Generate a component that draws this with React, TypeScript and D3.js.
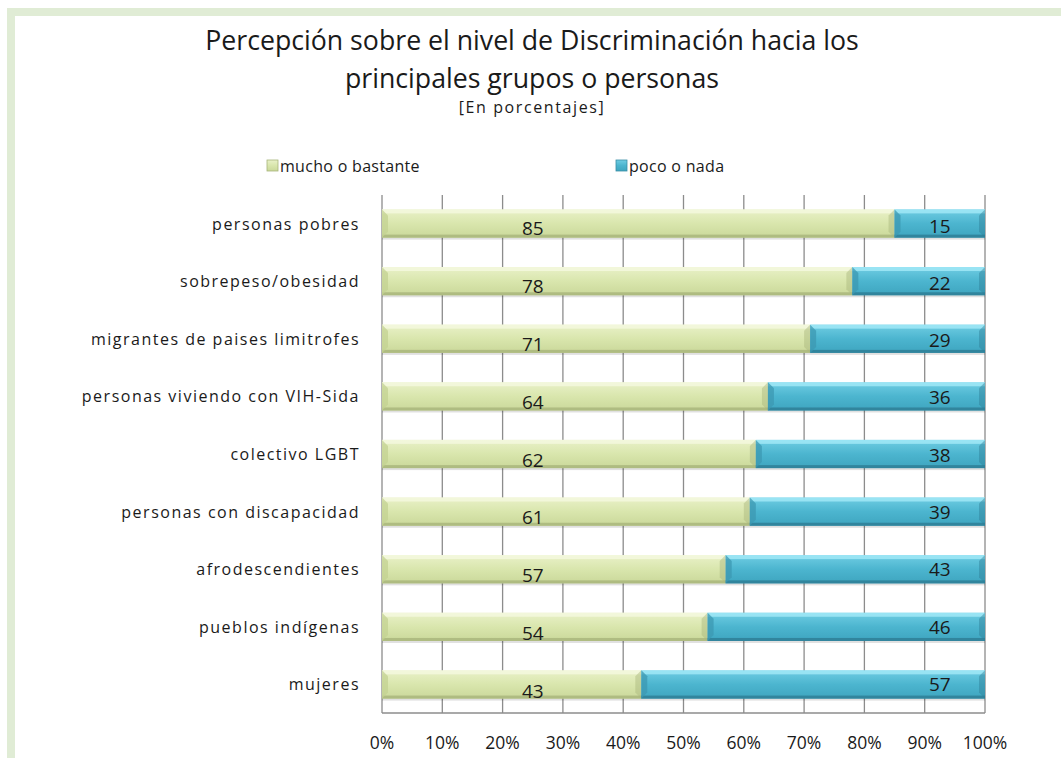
import React from "react";
import * as d3 from "d3";

const categories = [
  "personas pobres",
  "sobrepeso/obesidad",
  "migrantes de paises limitrofes",
  "personas viviendo con VIH-Sida",
  "colectivo LGBT",
  "personas con discapacidad",
  "afrodescendientes",
  "pueblos indígenas",
  "mujeres",
];
const muchoValues = [85, 78, 71, 64, 62, 61, 57, 54, 43];
const pocoValues = [15, 22, 29, 36, 38, 39, 43, 46, 57];
const seriesNames = ["mucho o bastante", "poco o nada"];
const tickValues = [0, 10, 20, 30, 40, 50, 60, 70, 80, 90, 100];

const FONT = "'Open Sans', 'Noto Sans', sans-serif";

export default function App() {
  const W = 1061, H = 758;
  const x0 = 382, x1 = 985, yTop = 195, yBot = 713;
  const x = d3.scaleLinear().domain([0, 100]).range([x0, x1]);
  const y = d3.scaleBand<string>().domain(categories).range([yTop, yBot]).paddingInner(0.51).paddingOuter(0.25);
  const bh = y.bandwidth();

  const bar = (key: string, xa: number, xb: number, yy: number, kind: "g" | "b") => {
    const w = xb - xa;
    const b = 6;
    const top = kind === "g" ? "#f5f9e2" : "#a8ecfa";
    const shadeBot = kind === "g" ? "#a9b67c" : "#2f7f96";
    const side = kind === "g" ? "#c3d192" : "#3c98b2";
    return (
      <g key={key}>
        <rect x={xa} y={yy + 2} width={w} height={bh} fill="#000" opacity={0.12} />
        <rect x={xa} y={yy} width={w} height={bh} fill={`url(#grad-${kind})`} />
        <rect x={xa} y={yy} width={w} height={4} fill={top} opacity={0.75} />
        <rect x={xa} y={yy + bh - 3} width={w} height={3} fill={shadeBot} opacity={0.85} />
        <polygon points={`${xa},${yy} ${xa + b},${yy + b} ${xa + b},${yy + bh - b} ${xa},${yy + bh}`} fill={side} opacity={0.75} />
        <polygon points={`${xb},${yy} ${xb - b},${yy + b} ${xb - b},${yy + bh - b} ${xb},${yy + bh}`} fill={shadeBot} opacity={0.45} />
      </g>
    );
  };

  return (
    <svg width={W} height={H} style={{ position: "absolute", left: 0, top: 0 }} fontFamily={FONT}>
      <defs>
        <linearGradient id="grad-g" x1="0" y1="0" x2="0" y2="1">
          <stop offset="0" stopColor="#e9f1c8" />
          <stop offset="0.5" stopColor="#d9e6ad" />
          <stop offset="1" stopColor="#cad89a" />
        </linearGradient>
        <linearGradient id="grad-b" x1="0" y1="0" x2="0" y2="1">
          <stop offset="0" stopColor="#6fcde3" />
          <stop offset="0.5" stopColor="#4cb5cf" />
          <stop offset="1" stopColor="#3ea5bf" />
        </linearGradient>
      </defs>
      <rect x={0} y={0} width={W} height={H} fill="#fff" />
      <rect x={11} y={12} width={W + 20} height={H + 20} fill="none" stroke="#e0ecd5" strokeWidth={8} />

      <text x={532} y={50} textAnchor="middle" fontSize={26.7} fill="#1a1a1a">
        Percepción sobre el nivel de Discriminación hacia los
      </text>
      <text x={532} y={88} textAnchor="middle" fontSize={26.7} fill="#1a1a1a">
        principales grupos o personas
      </text>
      <text x={532} y={113} textAnchor="middle" fontSize={16} letterSpacing={1.6} fill="#1a1a1a">
        [En porcentajes]
      </text>

      {seriesNames.map((s, i) => {
        const lx = i === 0 ? 267 : 616;
        return (
          <g key={s}>
            <rect x={lx} y={160} width={11} height={11} fill={i === 0 ? "url(#grad-g)" : "url(#grad-b)"} stroke={i === 0 ? "#a7b57a" : "#3a8ea6"} strokeWidth={0.8} />
            <text x={lx + 13} y={171.5} fontSize={16} letterSpacing={0.3} fill="#1a1a1a">{s}</text>
          </g>
        );
      })}

      {tickValues.map((t) => (
        <g key={t}>
          <line x1={x(t)} x2={x(t)} y1={yTop} y2={yBot} stroke="#8c8c8c" strokeWidth={1.3} />
          <text x={x(t)} y={749} textAnchor="middle" fontSize={17.5} fill="#1a1a1a">{t}%</text>
        </g>
      ))}
      <line x1={x0} x2={x1} y1={yBot} y2={yBot} stroke="#8c8c8c" strokeWidth={1.3} />

      {categories.map((c, i) => {
        const yy = y(c)!;
        const xm = x(muchoValues[i]);
        const cy = yy + bh / 2;
        return (
          <g key={c}>
            {bar(c + "g", x0, xm, yy, "g")}
            {bar(c + "b", xm, x(muchoValues[i] + pocoValues[i]), yy, "b")}
            <text x={360} y={cy + 6} textAnchor="end" fontSize={16} letterSpacing={1.5} fill="#1a1a1a">{c}</text>
            <text x={x(25)} y={cy + 11 + (3 * i) / 8} textAnchor="middle" fontSize={19} fill="#1a1a1a">{muchoValues[i]}</text>
            <text x={x(92.5)} y={cy + 9 - (2.5 * i) / 8} textAnchor="middle" fontSize={19} fill="#1a1a1a">{pocoValues[i]}</text>
          </g>
        );
      })}
    </svg>
  );
}
